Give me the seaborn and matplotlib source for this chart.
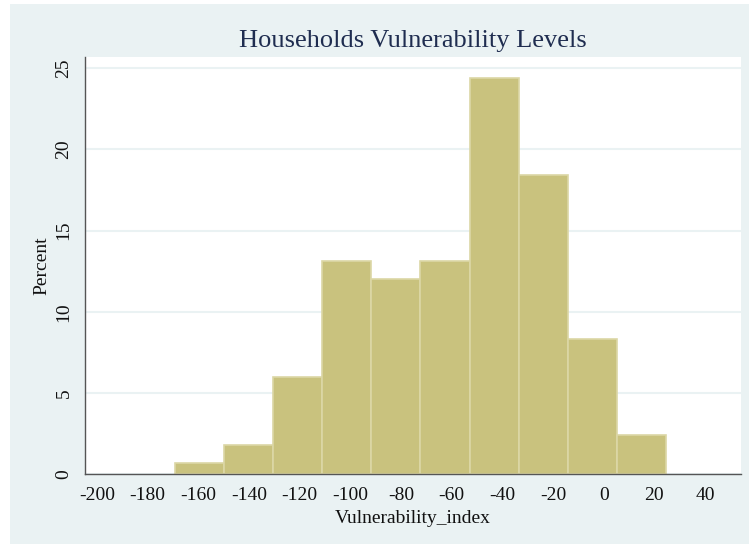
import numpy as np
import matplotlib
matplotlib.use("Agg")
import matplotlib.pyplot as plt
from matplotlib.patches import Rectangle
import seaborn as sns

# bin edges of the Stata-style histogram (width ~19.4)
bin_edges = [-169.2, -149.8, -130.5, -111.1, -91.7, -72.3, -52.9, -33.5, -14.1, 5.3, 24.7]
# percent of households in each bin
percent = [0.7, 1.8, 6.0, 13.1, 12.0, 13.1, 24.4, 18.4, 8.3, 2.4]
x_ticks = [-200, -180, -160, -140, -120, -100, -80, -60, -40, -20, 0, 20, 40]
y_ticks = [0, 5, 10, 15, 20, 25]

bin_mid = [(a + b) / 2 for a, b in zip(bin_edges[:-1], bin_edges[1:])]

sns.set_style("white")
plt.rcParams["font.family"] = ["Liberation Serif", "DejaVu Serif"]
plt.rcParams["axes.unicode_minus"] = False

bg = "#EAF2F3"
fig = plt.figure(figsize=(7.49, 5.44), dpi=100, facecolor="white")
fig.patches.append(Rectangle((10 / 749, 0), 1, 1 - 4 / 544, transform=fig.transFigure,
                             facecolor=bg, edgecolor="none", zorder=-1))
ax = fig.add_axes([85 / 749, 1 - 474 / 544, (741 - 85) / 749, (474 - 57) / 544])

sns.histplot(x=bin_mid, weights=percent, bins=bin_edges, ax=ax,
             color="#C9C27E", edgecolor="#DCD7A6", linewidth=1.2, alpha=1)

ax.set_xlim(-204.7, 54.2)
ax.set_ylim(0, 25.7)
ax.set_xticks(x_ticks)
ax.set_yticks(y_ticks)
ax.grid(axis="y", color=bg, linewidth=1.5)
ax.set_axisbelow(True)

for s in ["top", "right"]:
    ax.spines[s].set_visible(False)
for s in ["left", "bottom"]:
    ax.spines[s].set_color("#555555")
    ax.spines[s].set_linewidth(1.0)

ax.tick_params(axis="both", direction="out", length=5, width=1, color="#666666",
               labelsize=14, labelcolor="#111111", pad=4)
plt.setp(ax.get_yticklabels(), rotation=90, va="center")

ax.set_xlabel("Vulnerability_index", fontsize=14, labelpad=5, color="#111111")
ax.set_ylabel("Percent", fontsize=14, labelpad=4, color="#111111")
ax.set_title("Households Vulnerability Levels", fontsize=19, color="#1F2D50", pad=7)

fig.savefig("out.png", dpi=100, facecolor=fig.get_facecolor())
